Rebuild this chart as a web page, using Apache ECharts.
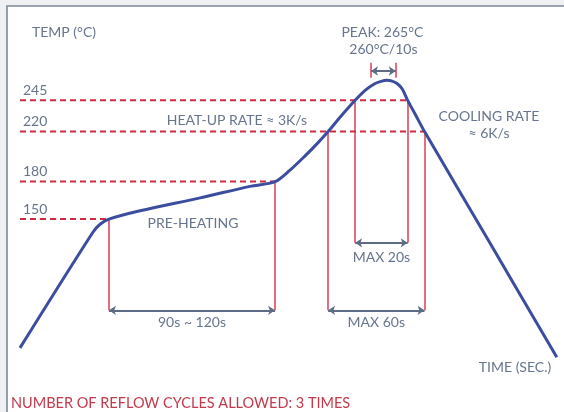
<!DOCTYPE html>
<html><head><meta charset="utf-8">
<script src="https://cdn.jsdelivr.net/npm/echarts@6/dist/echarts.min.js"></script>
<style>html,body{margin:0;padding:0;background:#eef0f3;}#c{width:564px;height:412px;}</style>
</head><body><div id="c"></div>
<script>
// Reflow profile (time in s, temperature in °C)
const curveTime = [0, 45.8, 50.4, 56.0, 75.6, 113.4, 144.8, 160.6, 170.0, 179.5, 187.7, 194.0, 201.5, 211.0, 217.3, 223.6, 227.3, 230.9, 234.3, 237.4, 240.6, 244.1, 249.4, 254.7, 296.0, 338.0];
const curveTemp = [47, 139.3, 145.9, 150, 156.7, 167.0, 176.2, 180, 189.2, 200.6, 211.2, 220, 231.4, 245, 253.0, 258.5, 260.2, 261, 260.4, 258.5, 254.3, 245, 232.5, 220, 130.6, 39.4];

// Threshold levels and the time where each dashed line meets the curve
const levels = [150, 180, 220, 245];
const levelLabels = ['150', '180', '220', '245'];
const levelEndTime = [56.0, 160.6, 254.7, 244.1];

// Time windows
const preheatWindow = [56.0, 160.6];      // 150 → 180 °C
const preheatTemps = [150, 180];
const liquidusWindow = [194.0, 254.7];    // above 220 °C
const liquidusTemp = 220;
const maxWindow = [211.0, 244.1];         // above 245 °C
const maxTemp = 245;
const peakWindow = [221.0, 236.6];        // 260 °C / 10 s

// Texts
const yTitle = 'TEMP (°C)';
const xTitle = 'TIME (SEC.)';
const peakText = ['PEAK: 265°C', '260°C/10s'];
const heatUpText = 'HEAT-UP RATE ≈ 3K/s';
const coolingText = ['COOLING RATE', '≈ 6K/s'];
const preheatText = 'PRE-HEATING';
const preheatSpanText = '90s ~ 120s';
const liquidusSpanText = 'MAX 60s';
const maxSpanText = 'MAX 20s';
const footText = 'NUMBER OF REFLOW CYCLES ALLOWED: 3 TIMES';

// layout (in axis units)
const ARROW_LOW = 77;      // level of the lower span arrows
const ARROW_MID = 131;     // level of the MAX 20s arrow
const ARROW_PEAK = 268.5;  // level of the peak arrow
const PEAK_TICK = [263, 275];

const RED = '#d22a43', VRED = '#dc4a5e', BLUE = '#3b4d9f', GREY = '#5d6c84', TXT = '#66758e';
const FONT = 'Lato';

const chart = echarts.init(document.getElementById('c'));

const vertical = (t, top, bottom) => ({ coords: [[t, top], [t, bottom]] });
const span = (w, y) => ({ coords: [[w[0], y], [w[1], y]] });

const option = {
  backgroundColor: 'transparent',
  animation: false,
  grid: { left: 20, right: 4, top: 31.6, bottom: 5.4 },
  xAxis: { type: 'value', min: 0, max: 340, show: false },
  yAxis: { type: 'value', min: 0, max: 300, show: false },
  series: [
    ...levels.map((L, i) => ({
      type: 'line', symbol: 'none', silent: true, z: 3,
      data: [[0, L], [levelEndTime[i], L]],
      lineStyle: { color: RED, width: 2, type: [6, 4] }
    })),
    {
      type: 'lines', coordinateSystem: 'cartesian2d', silent: true, z: 3,
      lineStyle: { color: VRED, width: 1.6, opacity: 1 },
      data: [
        vertical(preheatWindow[0], preheatTemps[0], ARROW_LOW),
        vertical(preheatWindow[1], preheatTemps[1], ARROW_LOW),
        vertical(liquidusWindow[0], liquidusTemp, ARROW_LOW),
        vertical(liquidusWindow[1], liquidusTemp, ARROW_LOW),
        vertical(maxWindow[0], maxTemp, ARROW_MID),
        vertical(maxWindow[1], maxTemp, ARROW_MID),
        vertical(peakWindow[0], PEAK_TICK[0], PEAK_TICK[1]),
        vertical(peakWindow[1], PEAK_TICK[0], PEAK_TICK[1])
      ]
    },
    {
      type: 'lines', coordinateSystem: 'cartesian2d', silent: true, z: 4,
      symbol: ['arrow', 'arrow'], symbolSize: 7,
      lineStyle: { color: GREY, width: 1.8, opacity: 1 },
      data: [
        span(preheatWindow, ARROW_LOW),
        span(liquidusWindow, ARROW_LOW),
        span(maxWindow, ARROW_MID),
        span(peakWindow, ARROW_PEAK)
      ]
    },
    {
      type: 'line', symbol: 'none', smooth: 0.3, silent: true, z: 5,
      data: curveTime.map((t, i) => [t, curveTemp[i]]),
      lineStyle: { color: BLUE, width: 3 }
    }
  ]
};
chart.setOption(option);

const px = (t, T) => chart.convertToPixel({ gridIndex: 0 }, [t, T]);
const txt = (text, x, y, opts = {}) => ({
  type: 'text', silent: true, z: 10,
  style: Object.assign({
    text, x, y, fill: TXT, fontSize: 14, fontFamily: FONT,
    textAlign: 'center', textVerticalAlign: 'middle'
  }, opts)
});

const g = [
  { type: 'rect', z: -10, silent: true, shape: { x: 7, y: 6, width: 620, height: 460 },
    style: { fill: '#ffffff', stroke: '#7d8898', lineWidth: 1.6 } },
  txt(yTitle, 32, 32, { textAlign: 'left' }),
  txt(xTitle, 515, 367),
  txt(footText, 11, 403.5, { textAlign: 'left', fill: '#c23a4c', fontSize: 14.5 }),
  txt(coolingText[0], 489, 116),
  txt(coolingText[1], 489, 133),
  txt(preheatText, 193, 223)
];
levels.forEach((L, i) => {
  const p = px(0, L);
  g.push(txt(levelLabels[i], 23, p[1] - 10, { textAlign: 'left' }));
});
{
  const p = px(0, liquidusTemp);
  g.push(txt(heatUpText, 237, p[1] - 11));
}
{
  const a = px((peakWindow[0] + peakWindow[1]) / 2, ARROW_PEAK);
  g.push(txt(peakText[0], a[0] - 1, 32));
  g.push(txt(peakText[1], a[0], 49));
}
[[preheatWindow, ARROW_LOW, preheatSpanText, 12], [liquidusWindow, ARROW_LOW, liquidusSpanText, 12], [maxWindow, ARROW_MID, maxSpanText, 14.5]]
  .forEach(([w, y, s, off]) => {
    const p = px((w[0] + w[1]) / 2, y);
    g.push(txt(s, p[0], p[1] + off));
  });
chart.setOption({ graphic: g });
</script></body></html>
